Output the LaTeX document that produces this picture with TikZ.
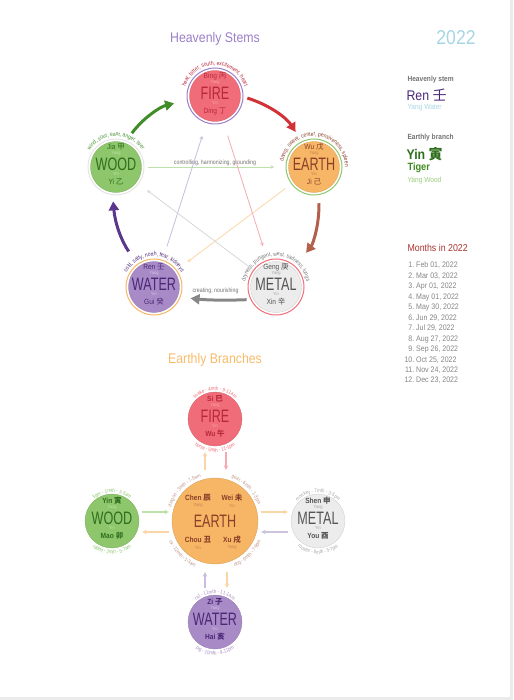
\documentclass[tikz,border=0pt]{standalone}
\usepackage{fontspec}
\setmainfont[FakeStretch=0.88]{Liberation Sans}
\newfontfamily\cjk{Noto Sans CJK SC}
\newfontfamily\arcfont[FakeStretch=0.85]{Liberation Sans}
\newfontfamily\elemfont[FakeStretch=0.7]{Liberation Sans}
\usepackage{tikz}
\usetikzlibrary{arrows.meta, positioning, calc, decorations.text}

\newcommand{\hanzi}[1]{{\cjk #1}}
\newcommand{\fsz}[1]{\fontsize{#1}{#1}\selectfont}

\definecolor{firefill}{RGB}{240,108,120}
\definecolor{firedark}{RGB}{185,40,58}
\definecolor{firepol}{RGB}{248,170,178}
\definecolor{firelight}{RGB}{245,170,178}
\definecolor{woodfill}{RGB}{141,198,107}
\definecolor{wooddark}{RGB}{47,110,28}
\definecolor{woodpol}{RGB}{196,228,176}
\definecolor{woodlight}{RGB}{190,225,170}
\definecolor{earthfill}{RGB}{247,182,101}
\definecolor{earthdark}{RGB}{139,63,42}
\definecolor{earthpol}{RGB}{205,125,80}
\definecolor{earthlight}{RGB}{250,214,165}
\definecolor{waterfill}{RGB}{168,139,198}
\definecolor{waterdark}{RGB}{74,39,119}
\definecolor{waterpol}{RGB}{212,198,235}
\definecolor{waterlight}{RGB}{200,188,225}
\definecolor{metalfill}{RGB}{236,236,236}
\definecolor{metaldark}{RGB}{85,85,85}
\definecolor{metalpol}{RGB}{165,165,165}
\definecolor{metallight}{RGB}{215,215,215}
\definecolor{stemtitle}{RGB}{155,127,200}
\definecolor{branchtitle}{RGB}{248,187,106}
\definecolor{yeartext}{RGB}{166,214,226}
\definecolor{monthred}{RGB}{168,50,46}
\definecolor{shenggreen}{RGB}{63,140,40}
\definecolor{shengred}{RGB}{210,50,55}
\definecolor{shengbrown}{RGB}{180,95,75}
\definecolor{shenggray}{RGB}{135,135,135}
\definecolor{shengpurple}{RGB}{90,55,140}
\definecolor{tigergreen}{RGB}{61,138,30}
\definecolor{lightgreen}{RGB}{154,203,122}

\tikzset{
  stemH/.style={circle, minimum size=51pt, inner sep=0pt, fill=#1fill,
                draw=#1fill!85!black, line width=0.3pt},
  branchB/.style={circle, minimum size=54pt, inner sep=0pt, fill=#1fill,
                  draw=#1fill!85!black, line width=0.3pt},
  ring/.style={draw=#1, line width=1pt},
  elemtext/.style={font=\elemfont\fsz{18}, text=#1dark, inner sep=0pt},
  stemname/.style={font=\fsz{7.5}, text=#1dark, inner sep=0pt},
  branchname/.style={font=\bfseries\fsz{7.5}, text=#1dark, inner sep=0pt},
  poltext/.style={font=\fsz{4.5}, text=#1pol, inner sep=0pt},
  stemarc/.style 2 args={decorate, decoration={text along path, text align=center,
                  text={|\arcfont\fsz{5.8}\color{#1}|#2}}},
  brancharc/.style 2 args={decorate, decoration={text along path, text align=center,
                  text={|\arcfont\fsz{5.2}\color{#1}|#2}}},
  ctrl/.style={draw=#1, line width=0.8pt, -{Stealth[length=4pt, width=3.5pt]}},
  sheng/.style={draw=#1, line width=3pt, -{Triangle[length=9pt, width=10pt]}},
  brarrow/.style={draw=#1, line width=1.2pt, -{Stealth[length=4.5pt, width=4.5pt]}},
  smalllabel/.style={font=\arcfont\fsz{6.2}, text=black!55, inner sep=1pt},
  title/.style={font=\fsz{14}},
  infohead/.style={anchor=west, font=\bfseries\fsz{7.5}, text=black!55},
  monthnum/.style={anchor=base east, font=\fsz{8}, text=black!48, inner sep=0pt},
  monthdate/.style={font=\fsz{8}, text=black!48, inner sep=0pt},
}

% texts inside one circle: node, colour, name style, element, top, bottom
\newcommand{\circletext}[6]{%
  \node[#3=#2]       (#1top)  at ($(#1)+(0,-20)$)   {#5};
  \node[poltext=#2]  (#1yang) at ($(#1)+(0,-13.5)$) {Yang};
  \node[elemtext=#2] (#1elem) at ($(#1)+(0,-2.5)$)  {#4};
  \node[poltext=#2]  (#1yin)  at ($(#1)+(0,7)$)     {Yin};
  \node[#3=#2]       (#1bot)  at ($(#1)+(0,15)$)    {#6};}

\begin{document}
\begin{tikzpicture}[x=1pt, y=-1pt]
  \useasboundingbox (0,0) rectangle (513,700);
  \fill[black!8] (510,0) rectangle (513,700);
  \fill[black!8] (0,697) rectangle (513,700);

  \node[title, text=stemtitle]   (stemtitle)   at (215,39)  {Heavenly Stems};
  \node[title, text=branchtitle] (branchtitle) at (215,360) {Earthly Branches};

  % heavenly stems
  \node[stemH=fire]  (fireH)  at (215,96)  {};
  \node[stemH=wood]  (woodH)  at (116,167) {};
  \node[stemH=earth] (earthH) at (314,167) {};
  \node[stemH=water] (waterH) at (154,287) {};
  \node[stemH=metal] (metalH) at (276,287) {};
  \draw[ring=stemtitle] (fireH)  circle[radius=28pt];
  \draw[ring=black!10]  (woodH)  circle[radius=28pt];
  \draw[ring=woodfill]  (earthH) circle[radius=28pt];
  \draw[ring=earthfill] (waterH) circle[radius=28pt];
  \draw[ring=firefill]  (metalH) circle[radius=28pt];

  \circletext{fireH}{fire}{stemname}{FIRE}{Bing \hanzi{丙}}{Ding \hanzi{丁}}
  \circletext{woodH}{wood}{stemname}{WOOD}{Jia \hanzi{甲}}{Yi \hanzi{乙}}
  \circletext{earthH}{earth}{stemname}{EARTH}{Wu \hanzi{戊}}{Ji \hanzi{己}}
  \circletext{waterH}{water}{stemname}{WATER}{Ren \hanzi{壬}}{Gui \hanzi{癸}}
  \circletext{metalH}{metal}{stemname}{METAL}{Geng \hanzi{庚}}{Xin \hanzi{辛}}

  \path[stemarc={firedark}{heat, bitter, south, excitement, heart}]
    ($(fireH)+(190:31pt)$) arc[start angle=190, end angle=-10, radius=31pt];
  \path[stemarc={shenggreen}{wind, sour, east, anger, liver}]
    ($(woodH)+(190:31pt)$) arc[start angle=190, end angle=-10, radius=31pt];
  \path[stemarc={earthdark}{damp, sweet, center, pensiveness, spleen}]
    ($(earthH)+(190:31pt)$) arc[start angle=190, end angle=-20, radius=31pt];
  \path[stemarc={waterdark}{cold, salty, north, fear, kidneys}]
    ($(waterH)+(190:31pt)$) arc[start angle=190, end angle=-10, radius=31pt];
  \path[stemarc={black!55}{dryness, pungent, west, sadness, lungs}]
    ($(metalH)+(190:31pt)$) arc[start angle=190, end angle=-10, radius=31pt];

  % creating cycle
  \draw[sheng=shenggreen, shorten <=12pt, shorten >=16pt] (woodH.70) to[bend left=20] (fireH.188);
  \draw[sheng=shengred, shorten <=7pt, shorten >=14pt] (fireH.0) to[bend left=20] (earthH.115);
  \draw[sheng=shengbrown, shorten <=11pt, shorten >=20pt] (earthH.-80) to[bend left=20] (metalH.46);
  \draw[sheng=shenggray, shorten <=7pt, shorten >=13pt] (metalH.209) to[bend left=4]
    node[smalllabel, above=3pt] (creatlabel) {creating, nourishing} (waterH.-23);
  \draw[sheng=shengpurple, shorten <=18pt, shorten >=9pt] (waterH.126) to[bend left=15] (woodH.262);

  % controlling cycle
  \draw[ctrl=woodlight, shorten <=6pt, shorten >=14pt] (woodH) --
    node[smalllabel, above] (ctrllabel) {controlling, harmonizing, grounding} (earthH);
  \draw[ctrl=earthlight, shorten <=10pt, shorten >=16pt] (earthH) -- (waterH);
  \draw[ctrl=waterlight, shorten <=17pt, shorten >=16pt] (waterH) -- (fireH);
  \draw[ctrl=firelight, shorten <=16pt, shorten >=17pt] (fireH) -- (metalH);
  \draw[ctrl=metallight, shorten <=4pt, shorten >=13pt] (metalH) -- (woodH);

  % earthly branches
  \node[branchB=fire]  (fireB)  at (215,419) {};
  \node[branchB=wood]  (woodB)  at (112,521) {};
  \node[branchB=metal] (metalB) at (318,521) {};
  \node[branchB=water] (waterB) at (215,622) {};
  \node[branchB=earth, minimum size=86pt] (earthB) at (215,521) {};

  \circletext{fireB}{fire}{branchname}{FIRE}{Si \hanzi{巳}}{Wu \hanzi{午}}
  \circletext{woodB}{wood}{branchname}{WOOD}{Yin \hanzi{寅}}{Mao \hanzi{卯}}
  \circletext{metalB}{metal}{branchname}{METAL}{Shen \hanzi{申}}{You \hanzi{酉}}
  \circletext{waterB}{water}{branchname}{WATER}{Zi \hanzi{子}}{Hai \hanzi{亥}}

  \node[elemtext=earth]    (earthBe)    at ($(earthB)+(0,0)$)     {EARTH};
  \node[branchname=earth]  (chen)       at ($(earthB)+(-17,-23)$) {Chen \hanzi{辰}};
  \node[poltext=earth]     (chenpol)    at ($(earthB)+(-17,-15.5)$) {Yang};
  \node[branchname=earth]  (wei)        at ($(earthB)+(17,-23)$)  {Wei \hanzi{未}};
  \node[poltext=earth]     (weipol)     at ($(earthB)+(17,-15.5)$) {Yin};
  \node[branchname=earth]  (chou)       at ($(earthB)+(-17,19)$)  {Chou \hanzi{丑}};
  \node[poltext=earth]     (choupol)    at ($(earthB)+(-17,26.5)$) {Yin};
  \node[branchname=earth]  (xu)         at ($(earthB)+(17,19)$)   {Xu \hanzi{戌}};
  \node[poltext=earth]     (xupol)      at ($(earthB)+(17,26.5)$) {Yang};

  \path[brancharc={firefill}{snake - 4mth - 9-11am}]
    ($(fireB)+(180:28.5pt)$) arc[start angle=180, end angle=0, radius=28.5pt];
  \path[brancharc={firefill}{horse - 5mth - 11-1pm}]
    ($(fireB)+(200:33pt)$) arc[start angle=200, end angle=340, radius=33pt];
  \path[brancharc={woodfill}{tiger - 1mth - 3-5am}]
    ($(woodB)+(180:28.5pt)$) arc[start angle=180, end angle=0, radius=28.5pt];
  \path[brancharc={woodfill}{rabbit - 2mth - 5-7am}]
    ($(woodB)+(200:33pt)$) arc[start angle=200, end angle=340, radius=33pt];
  \path[brancharc={black!35}{monkey - 7mth - 3-5pm}]
    ($(metalB)+(180:28.5pt)$) arc[start angle=180, end angle=0, radius=28.5pt];
  \path[brancharc={black!35}{rooster - 8mth - 5-7pm}]
    ($(metalB)+(200:33pt)$) arc[start angle=200, end angle=340, radius=33pt];
  \path[brancharc={waterfill}{rat - 11mth - 11-1am}]
    ($(waterB)+(180:28.5pt)$) arc[start angle=180, end angle=0, radius=28.5pt];
  \path[brancharc={waterfill}{pig - 10mth - 9-11pm}]
    ($(waterB)+(200:33pt)$) arc[start angle=200, end angle=340, radius=33pt];
  \path[brancharc={earthdark!55!white}{dragon - 3mth - 7-9am}]
    ($(earthB)+(178:46pt)$) arc[start angle=178, end angle=92, radius=46pt];
  \path[brancharc={earthdark!55!white}{goat - 6mth - 1-3pm}]
    ($(earthB)+(88:46pt)$) arc[start angle=88, end angle=2, radius=46pt];
  \path[brancharc={earthdark!55!white}{ox - 12mth - 1-3am}]
    ($(earthB)+(182:50pt)$) arc[start angle=182, end angle=268, radius=50pt];
  \path[brancharc={earthdark!55!white}{dog - 9mth - 7-9pm}]
    ($(earthB)+(272:50pt)$) arc[start angle=272, end angle=358, radius=50pt];

  \draw[brarrow=earthlight, shorten <=8pt, shorten >=6pt] ([xshift=-10pt]earthB.north) -- ([xshift=-10pt]fireB.south);
  \draw[brarrow=firelight, shorten <=6pt, shorten >=8pt] ([xshift=11pt]fireB.south) -- ([xshift=11pt]earthB.north);
  \draw[brarrow=woodlight, shorten <=3pt, shorten >=3pt] ([yshift=9pt]woodB.east) -- ([yshift=9pt]earthB.west);
  \draw[brarrow=earthlight, shorten <=3pt, shorten >=3pt] ([yshift=-11pt]earthB.west) -- ([yshift=-11pt]woodB.east);
  \draw[brarrow=earthlight, shorten <=3pt, shorten >=3pt] ([yshift=9pt]earthB.east) -- ([yshift=9pt]metalB.west);
  \draw[brarrow=waterlight!70!metallight, shorten <=3pt, shorten >=3pt] ([yshift=-11pt]metalB.west) -- ([yshift=-11pt]earthB.east);
  \draw[brarrow=waterlight, shorten <=7pt, shorten >=8pt] ([xshift=-10pt]waterB.north) -- ([xshift=-10pt]earthB.south);
  \draw[brarrow=earthlight, shorten <=8pt, shorten >=7pt] ([xshift=12pt]earthB.south) -- ([xshift=12pt]waterB.north);

  % year column
  \node[font=\fsz{20}, text=yeartext] (year) at (456,38) {2022};
  \node[infohead] (stemhead) at (404,80) {Heavenly stem};
  \node[anchor=west, font=\fsz{14}, text=waterdark] (stemval) at (403,95) {Ren \hanzi{壬}};
  \node[anchor=west, font=\fsz{7.5}, text=yeartext] (stemsub) at (404,107.5) {Yang Water};
  \node[infohead] (branchhead) at (404,138) {Earthly branch};
  \node[anchor=west, font=\bfseries\fsz{14}, text=wooddark] (branchval) at (403,154) {Yin \hanzi{寅}};
  \node[anchor=west, font=\bfseries\fsz{10.5}, text=tigergreen] (animal) at (404,168) {Tiger};
  \node[anchor=west, font=\fsz{7.5}, text=lightgreen] (branchsub) at (404,180.5) {Yang Wood};

  \node[anchor=west, font=\fsz{10}, text=monthred] (monthhead) at (404,248) {Months in 2022};
  \foreach \d [count=\i] in {{Feb 01, 2022},{Mar 03, 2022},{Apr 01, 2022},{May 01, 2022},
      {May 30, 2022},{Jun 29, 2022},{Jul 29, 2022},{Aug 27, 2022},{Sep 26, 2022},
      {Oct 25, 2022},{Nov 24, 2022},{Dec 23, 2022}} {
    \node[monthnum] (num\i) at (414.5,{257.5+10.45*\i}) {\i.};
    \node[monthdate, base right=1.5pt of num\i] (date\i) {\d};
  }
\end{tikzpicture}
\end{document}
